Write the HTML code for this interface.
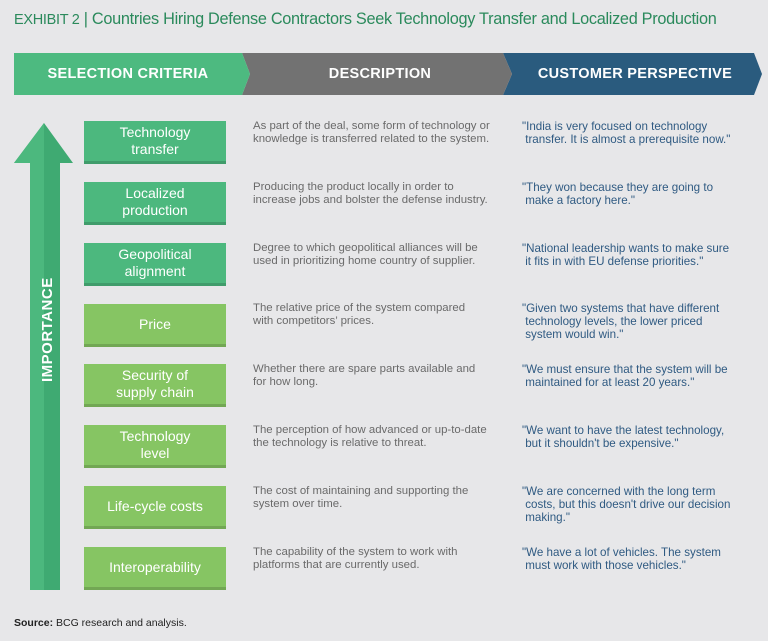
<!DOCTYPE html>
<html><head><meta charset="utf-8"><style>
body{margin:0;width:768px;height:641px;background:#e7e7e9;font-family:"Liberation Sans",sans-serif;position:relative;overflow:hidden}
.t{position:absolute;left:14px;top:10px;font-size:16.3px;color:#2b8a5c;letter-spacing:-0.3px}
.box{position:absolute;left:84px;width:142px;height:40px;border-bottom:3px solid rgba(0,0,0,0.15);color:#fff;font-size:14px;display:flex;align-items:center;justify-content:center;text-align:center;line-height:17px}
.g1{background:#4cb87e}.g2{background:#86c563}
.d{position:absolute;left:253px;font-size:11.4px;line-height:13px;color:#6a6a6a;width:265px;white-space:nowrap}
.q{position:absolute;left:522px;font-size:11.6px;line-height:13px;color:#2f5a82;width:245px;white-space:nowrap}
.hd{position:absolute;top:53px;height:42px;color:#fff;font-weight:bold;font-size:14.5px;display:flex;align-items:center;justify-content:center;letter-spacing:0.3px}
</style></head><body>
<div class="t"><span style="font-size:14.5px">EXHIBIT 2</span> | Countries Hiring Defense Contractors Seek Technology Transfer and Localized Production</div>
<svg style="position:absolute;left:0;top:0" width="768" height="641">
<polygon points="503,53 754,53 762,74 754,95 503,95 512,74" fill="#2a5b7e"/>
<polygon points="242,53 503,53 512,74 503,95 242,95 250,74" fill="#727272"/>
<polygon points="14,53 242,53 250,74 242,95 14,95" fill="#4dba80"/>
<polygon points="44,123 73,163 60,163 60,590 30,590 30,163 14,163" fill="#3faa72"/>
<polygon points="44,123 14,163 30,163 30,590 44,590" fill="#4cb87e"/>
<text transform="translate(52,382) rotate(-90)" fill="#fff" font-weight="bold" font-size="15" font-family="Liberation Sans" letter-spacing="0.5">IMPORTANCE</text>
</svg>
<div class="hd" style="left:14px;width:228px">SELECTION CRITERIA</div>
<div class="hd" style="left:250px;width:260px">DESCRIPTION</div>
<div class="hd" style="left:515px;width:240px">CUSTOMER PERSPECTIVE</div>

<div class="box g1" style="top:121px">Technology<br>transfer</div>
<div class="box g1" style="top:182px">Localized<br>production</div>
<div class="box g1" style="top:243px">Geopolitical<br>alignment</div>
<div class="box g2" style="top:304px">Price</div>
<div class="box g2" style="top:364px">Security of<br>supply chain</div>
<div class="box g2" style="top:425px">Technology<br>level</div>
<div class="box g2" style="top:486px">Life-cycle costs</div>
<div class="box g2" style="top:547px">Interoperability</div>

<div class="d" style="top:120px">As part of the deal, some form of technology or<br>knowledge is transferred related to the system.</div>
<div class="d" style="top:181px">Producing the product locally in order to<br>increase jobs and bolster the defense industry.</div>
<div class="d" style="top:242px">Degree to which geopolitical alliances will be<br>used in prioritizing home country of supplier.</div>
<div class="d" style="top:302px">The relative price of the system compared<br>with competitors’ prices.</div>
<div class="d" style="top:363px">Whether there are spare parts available and<br>for how long.</div>
<div class="d" style="top:424px">The perception of how advanced or up-to-date<br>the technology is relative to threat.</div>
<div class="d" style="top:485px">The cost of maintaining and supporting the<br>system over time.</div>
<div class="d" style="top:546px">The capability of the system to work with<br>platforms that are currently used.</div>

<div class="q" style="top:120px">"India is very focused on technology<br>&nbsp;transfer. It is almost a prerequisite now."</div>
<div class="q" style="top:181px">"They won because they are going to<br>&nbsp;make a factory here."</div>
<div class="q" style="top:242px">"National leadership wants to make sure<br>&nbsp;it fits in with EU defense priorities."</div>
<div class="q" style="top:302px">"Given two systems that have different<br>&nbsp;technology levels, the lower priced<br>&nbsp;system would win."</div>
<div class="q" style="top:363px">"We must ensure that the system will be<br>&nbsp;maintained for at least 20 years."</div>
<div class="q" style="top:424px">"We want to have the latest technology,<br>&nbsp;but it shouldn't be expensive."</div>
<div class="q" style="top:485px">"We are concerned with the long term<br>&nbsp;costs, but this doesn't drive our decision<br>&nbsp;making."</div>
<div class="q" style="top:546px">"We have a lot of vehicles. The system<br>&nbsp;must work with those vehicles."</div>

<div style="position:absolute;left:14px;top:617px;font-size:10.5px;color:#222"><b>Source:</b> BCG research and analysis.</div>
</body></html>
